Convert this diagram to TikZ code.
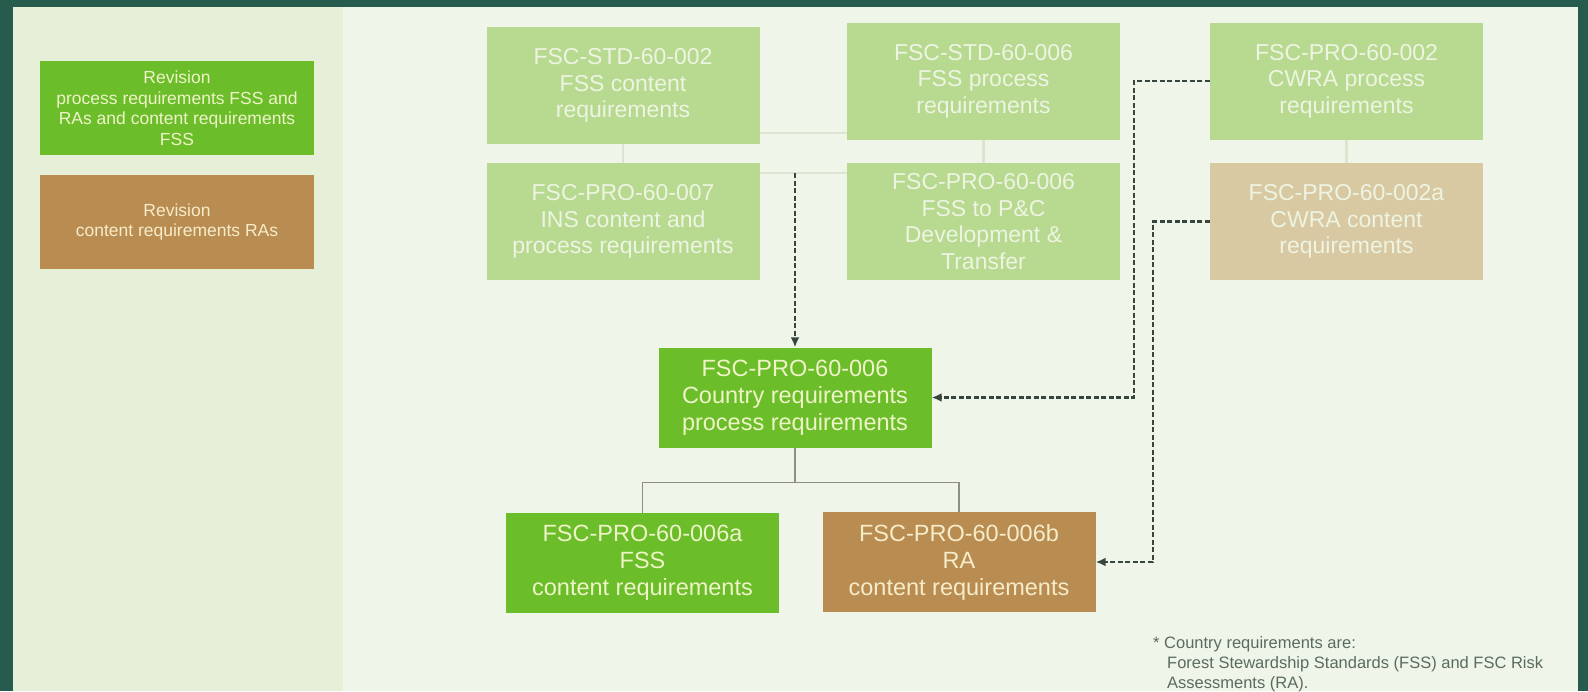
\documentclass[tikz,border=0pt]{standalone}
\usepackage{fontspec}
\setmainfont{Liberation Sans}
\usetikzlibrary{arrows.meta}

\definecolor{cadre}{HTML}{265B4D}
\definecolor{fond}{HTML}{EFF5E9}
\definecolor{panneau}{HTML}{E6F0D8}
\definecolor{vert}{HTML}{6CBD2A}
\definecolor{brun}{HTML}{B98C52}
\definecolor{vertpale}{HTML}{B7DA90}
\definecolor{tanpale}{HTML}{D8C9A3}
\definecolor{textepale}{HTML}{EEF4E2}
\definecolor{textevif}{HTML}{EEF4C8}
\definecolor{textebrun}{HTML}{F7ECC9}
\definecolor{lienpale}{HTML}{DCE5D2}
\definecolor{lienarbre}{HTML}{8B9082}
\definecolor{tiret}{HTML}{37453F}
\definecolor{textenote}{HTML}{5B6B62}

\tikzset{bloc/.style = {rectangle, fill=#1, align=center, minimum width=273pt},
         bloc/.default=vertpale,
         pale/.style = {bloc=#1, text=textepale, minimum height=117pt,
                        font=\fontsize{23}{26.5}\selectfont},
         pale/.default=vertpale,
         vif/.style = {bloc=#1, minimum height=100pt,
                       font=\fontsize{23.5}{27}\selectfont},
         vif/.default=vert,
         legende/.style = {bloc=#1, minimum width=274pt, minimum height=94pt,
                           font=\fontsize{17.5}{20.5}\selectfont},
         lien/.style = {draw=lienpale, line width=2.5pt},
         arbre/.style = {draw=lienarbre, line width=1.5pt},
         renvoi/.style = {draw=tiret, line width=2.2pt, dash pattern=on 5pt off 2.5pt,
                          -{Latex[length=10pt,width=9pt]}}
        }

\begin{document}
\begin{tikzpicture}[x=1pt,y=-1pt]
  \tikzstyle{every node}=[inner sep=0pt]
  \useasboundingbox (0,0) rectangle (1588,691);
  \fill[cadre] (0,0) rectangle (1588,691);
  \fill[fond] (13,7) rectangle (1578,691);
  \fill[panneau] (13,7) rectangle (343,691);

  \node[legende=vert, text=textevif] (legvert) at (177,108)
       {Revision\\process requirements FSS and\\RAs and content requirements\\FSS};
  \node[legende=brun, text=textebrun] (legbrun) at (177,222)
       {Revision\\content requirements RAs};

  \node[pale] (std002) at (623,85.5) {FSC-STD-60-002\\FSS content\\requirements};
  \node[pale] (pro007) at (623,221.5) {FSC-PRO-60-007\\INS content and\\process requirements};
  \node[pale] (std006) at (983.5,81) {FSC-STD-60-006\\FSS process\\requirements};
  \node[pale] (pro006t) at (983.5,221.5) {FSC-PRO-60-006\\FSS to P\&C\\Development \&\\Transfer};
  \node[pale] (pro002) at (1346.5,81) {FSC-PRO-60-002\\CWRA process\\requirements};
  \node[pale=tanpale] (pro002a) at (1346.5,221.5) {FSC-PRO-60-002a\\CWRA content\\requirements};

  \node[vif, text=textevif] (country) at (795,397.5)
       {FSC-PRO-60-006\\Country requirements\\process requirements};
  \node[vif, text=textevif] (fss006a) at (642.5,563)
       {FSC-PRO-60-006a\\FSS\\content requirements};
  \node[vif=brun, text=textebrun] (ra006b) at (959,562)
       {FSC-PRO-60-006b\\RA\\content requirements};

  \node[anchor=north west, align=left, text=textenote,
        font=\fontsize{16.5}{20}\selectfont] (note) at (1153,636)
       {* Country requirements are:\\
        \hspace*{14pt}Forest Stewardship Standards (FSS) and FSC Risk\\
        \hspace*{14pt}Assessments (RA).};

  \coordinate (barhaut) at (803,133);
  \coordinate (barbas) at (803,173);
  \draw[lien] (std002.south) -- (pro007.north);
  \draw[lien] (std006.south) -- (pro006t.north);
  \draw[lien] (pro002.south) -- (pro002a.north);
  \draw[lien] (std002.east |- barhaut) -- (std006.west |- barhaut);
  \draw[lien] (pro007.east |- barbas) -- (pro006t.west |- barbas);

  \draw[arbre] (country.south) -- ++(0,35) -| (fss006a.north);
  \draw[arbre] (country.south) ++(0,35) -| (ra006b.north);

  \draw[renvoi] (country.north |- barbas) -- (country.north);
  \draw[renvoi] (pro002.west) -- ++(-76,0) |- (country.east);
  \draw[renvoi] (pro002a.west) -- ++(-57,0) |- (ra006b.east);
\end{tikzpicture}
\end{document}
